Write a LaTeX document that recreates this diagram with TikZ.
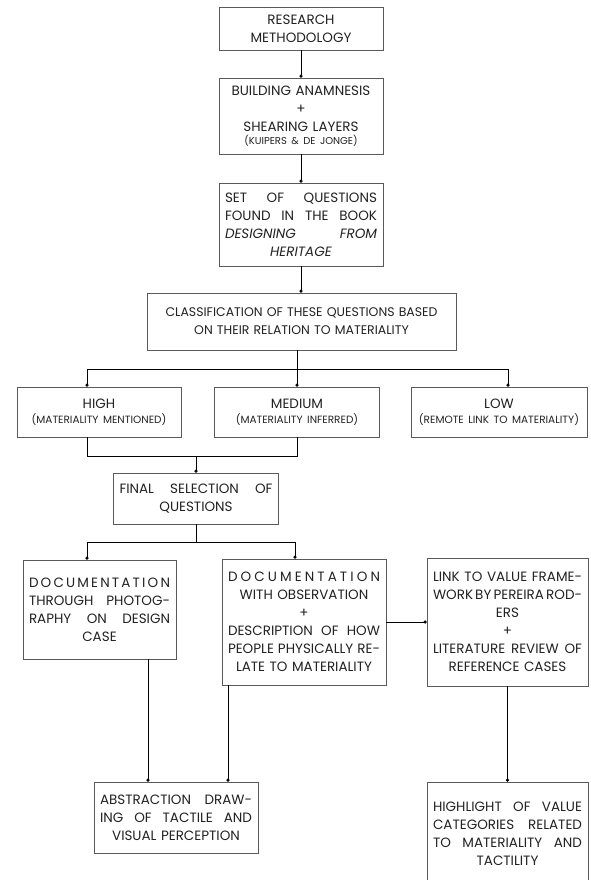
\documentclass[tikz,border=0pt]{standalone}
\usepackage{fontspec}
\setmainfont{Poppins}
\usetikzlibrary{arrows.meta}
\definecolor{framegray}{HTML}{5A5A5A}
\definecolor{inkgray}{HTML}{222222}
\makeatletter
\newcommand\spreadword[1]{\@tfor\sw@c:=#1\do{\sw@c\hfill}\unskip}
\makeatother
\newcommand\smallnote[1]{{\fontsize{10.5}{12}\selectfont #1}}
\newcommand\tinynote[1]{{\fontsize{10}{10}\selectfont #1}}
\tikzset{
  box/.style={draw=framegray, line width=0.6pt, text=inkgray, align=center,
    inner xsep=6pt, inner ysep=3pt, font=\fontsize{13.5}{18}\selectfont},
  conn/.style={line width=0.7pt, -{Circle[length=3.2pt]}},
  plain/.style={line width=0.7pt}
}

\begin{document}
\begin{tikzpicture}[x=1pt, y=-1pt]
	\useasboundingbox[fill=white] (0,0) rectangle (590,880);
	\node[box, text width=152pt, minimum height=43pt] (method) at (301,28.5) {RESEARCH\\METHODOLOGY};
	\node[box, text width=152pt, minimum height=76pt] (anam) at (301,116) {BUILDING ANAMNESIS\\+\\SHEARING LAYERS\\[-5pt]\tinynote{(KUIPERS \& DE JONGE)}};
	\node[box, text width=152pt, minimum height=83pt] (quest) at (301,224.5) {SET\hfill OF\hfill QUESTIONS\\FOUND\hfill IN\hfill THE\hfill BOOK\\\textit{DESIGNING\hfill FROM}\\\textit{HERITAGE}};
	\node[box, text width=297pt, minimum height=57pt, font=\fontsize{12.5}{18}\selectfont] (classif) at (301.5,321.5) {CLASSIFICATION OF THESE QUESTIONS BASED\\ON THEIR RELATION TO MATERIALITY};
	\node[box, text width=152pt, minimum height=50pt] (high) at (99,412) {HIGH\\[-3pt]\smallnote{(MATERIALITY MENTIONED)}};
	\node[box, text width=153pt, minimum height=50pt] (medium) at (297,412) {MEDIUM\\[-3pt]\smallnote{(MATERIALITY INFERRED)}};
	\node[box, text width=172pt, inner xsep=2pt, minimum height=50pt] (low) at (499,412) {LOW\\[-3pt]\smallnote{(REMOTE LINK TO MATERIALITY)}};
	\node[box, text width=153pt, minimum height=51pt] (final) at (196,498.5) {FINAL\hfill SELECTION\hfill OF\\QUESTIONS};
	\node[box, text width=141pt, minimum height=99pt] (photo) at (99.5,609.5) {\spreadword{DOCUMENTATION}\\THROUGH\hfill PHOTOG-\\RAPHY\hfill ON\hfill DESIGN\\CASE};
	\node[box, text width=152pt, minimum height=126pt] (observ) at (304,622) {\spreadword{DOCUMENTATION}\\WITH OBSERVATION\\+\\DESCRIPTION\hfill OF\hfill HOW\\PEOPLE\hfill PHYSICALLY\hfill RE-\\LATE TO MATERIALITY};
	\node[box, text width=149pt, minimum height=128pt] (valfw) at (507.5,622) {LINK\hfill TO\hfill VALUE\hfill FRAME-\\WORK\hfill BY\hfill PEREIRA\hfill ROD-\\ERS\\+\\LITERATURE\hfill REVIEW\hfill OF\\REFERENCE CASES};
	\node[box, text width=152pt, minimum height=71pt] (abstr) at (176,817.5) {ABSTRACTION\hfill DRAW-\\ING\hfill OF\hfill TACTILE\hfill AND\\VISUAL PERCEPTION};
	\node[box, text width=149pt, minimum height=104pt] (highl) at (507.5,834) {HIGHLIGHT\hfill OF\hfill VALUE\\CATEGORIES\hfill RELATED\\TO\hfill MATERIALITY\hfill AND\\TACTILITY};
	\draw[conn] (method.south) -- (anam.north);
	\draw[conn] (anam.south) -- (quest.north);
	\draw[conn] (quest.south) -- (quest.south |- classif.north);
	\coordinate (split1) at (297,369);
	\draw[plain] (classif.south -| split1) -- (split1);
	\draw[conn] (split1) -| ([xshift=-12pt]high.north);
	\draw[conn] (split1) -- (medium.north);
	\draw[conn] (split1) -| ([xshift=9pt]low.north);
	\coordinate (join1) at (196,456);
	\draw[plain] ([xshift=-12pt]high.south) |- (medium.south |- join1) -- (medium.south);
	\draw[conn] (join1) -- (final.north);
	\coordinate (split2) at (196,542);
	\draw[plain] (final.south) -- (split2);
	\draw[conn] (split2) -| ([xshift=-12.5pt]photo.north);
	\draw[conn] (split2) -| ([xshift=-9pt]observ.north);
	\draw[conn] (observ.east) -- (valfw.west);
	\draw[conn] ([xshift=48.5pt]photo.south) -- ([xshift=48.5pt]photo.south |- abstr.north);
	\draw[conn] ([xshift=-76pt]observ.south) -- ([xshift=-76pt]observ.south |- abstr.north);
	\draw[conn] (valfw.south) -- (highl.north);
\end{tikzpicture}
\end{document}
